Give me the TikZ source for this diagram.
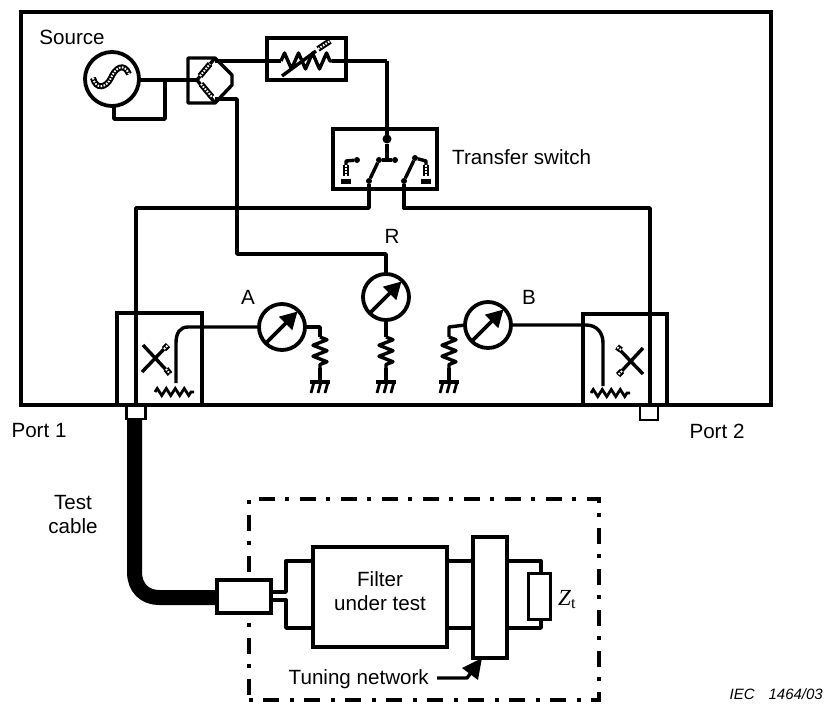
\documentclass[tikz,border=0pt]{standalone}
\usepackage{fontspec}
\setmainfont{Liberation Sans}
\newfontfamily\zfont{Liberation Serif}
\usetikzlibrary{arrows.meta,decorations.pathmorphing}

\begin{document}
\begin{tikzpicture}[x=1pt, y=-1pt,
    lab/.style={font=\fontsize{20.6}{24}\selectfont, align=center, inner sep=0pt},
    box/.style={rectangle, draw, line width=3.8pt, inner sep=0pt, outer sep=0pt},
    whitebox/.style={box, fill=white},
    meter/.style={circle, draw, line width=3.8pt, fill=white, minimum size=46pt,
                  inner sep=0pt, outer sep=0pt},
    wire/.style={line width=3.4pt, line join=round},
    needle/.style={line width=3.8pt, -{Triangle[length=17pt, width=18pt]},
                   shorten >=1pt},
    zig/.style={wire, decorate, decoration={zigzag, amplitude=5pt, segment length=8.5pt}},
    wiggle/.style={line width=2.8pt, decorate,
                   decoration={zigzag, amplitude=3.5pt, segment length=9pt}},
    blob/.style={line width=2pt, white, dash pattern=on 1.6pt off 1.4pt,
                 preaction={draw=black, solid, line width=6pt}},
    contact/.style={circle, fill=black, minimum size=6pt, inner sep=0pt, outer sep=0pt},
    chain/.style={line width=3.8pt, dash pattern=on 16pt off 10pt on 4pt off 11pt}]

    \useasboundingbox (0,0) rectangle (826,704);

    % Main frame
    \node[box, line width=3.4pt, minimum width=750pt, minimum height=393pt] (frame) at (396,208.5) {};

    % Source and splitter
    \node[meter, minimum size=54pt] (src) at (112,79) {};
    \node[lab] (srclab) at (72,37) {Source};
    \coordinate (sinea) at (93,78);
    \coordinate (sineb) at (111,78);
    \coordinate (sinec) at (129,74);
    \draw[blob, preaction={draw=black, solid, line width=5pt}] (sinea) .. controls (96,90) and (106,88) .. (sineb)
        .. controls (115,68) and (124,62) .. (sinec);
    \coordinate (splita) at (188,58);
    \coordinate (splitb) at (215,58);
    \coordinate (splitc) at (232,75);
    \coordinate (splitd) at (232,85);
    \coordinate (splite) at (215,103);
    \coordinate (splitf) at (188,103);
    \coordinate (splitin) at (197,80);
    \draw[wire] (splita) -- (splitb) -- (splitc) -- (splitd) -- (splite) -- (splitf) -- cycle;
    \draw[wire] (splitin) -- (splitb);
    \draw[wire] (splitin) -- (splite);
    \draw[blob] (200,76) -- (210,64);
    \draw[blob] (201,84) -- (212,97);

    % Loop at the source
    \coordinate (loopa) at (114,119);
    \coordinate (loopb) at (165,119);
    \coordinate (loopc) at (165,80);
    \draw[wire] (src.east |- loopc) -- (splitin);
    \draw[wire] (src.south -| loopa) -- (loopa) -- (loopb) -- (loopc);

    % Attenuator
    \node[box, minimum width=79pt, minimum height=42pt] (att) at (306.5,59) {};
    \coordinate (zigin) at (281,61);
    \coordinate (zigout) at (332,61);
    \coordinate (turn) at (387,61);
    \draw[wire] (215,61) -- (zigin);
    \draw[zig, decoration={amplitude=8pt, segment length=14pt}] (zigin) -- (zigout);
    \draw[wire] (zigout) -- (turn);
    \draw[wire] (282,76) -- (316,51);
    \draw[blob] (318,49) -- (330,41);

    % Transfer switch
    \node[box, minimum width=104pt, minimum height=60pt] (sw) at (385,159) {};
    \node[lab, anchor=west] (swlab) at (452,157) {Transfer switch};
    \node[contact, minimum size=9pt] (swtop) at (387,139) {};
    \coordinate (swmid) at (387,160);
    \node[contact] (swl) at (379,160) {};
    \node[contact] (swr) at (395,160) {};
    \node[contact] (swla) at (369,181) {};
    \node[contact] (swlb) at (404,181) {};
    \node[contact] (swra) at (415,158) {};
    \node[contact] (swtl) at (357,160) {};
    \draw[wire] (turn) -- (swtop);
    \draw[wire] (swtop) -- (swmid);
    \draw[wire] (swl) -- (swr);
    \draw[wire] (swl) -- (swla);
    \draw[wire] (swra) -- (swlb);
    \draw[wire] (swtl) -- (346,161) -- (346,165);
    \draw[wire] (swra) -- (426,161) -- (426,165);
    \draw[blob] (346,165) -- (346,176);
    \draw[blob] (426,165) -- (426,176);
    \draw[line width=5pt] (341,181) -- (351,181);
    \draw[line width=5pt] (421,181) -- (431,181);

    % Lines to the couplers
    \coordinate (linela) at (369,208);
    \coordinate (linelb) at (136,208);
    \coordinate (linelc) at (136,405);
    \coordinate (linera) at (404,208);
    \coordinate (linerb) at (650,208);
    \coordinate (linerc) at (650,405);
    \draw[wire] (swla) -- (linela) -- (linelb) -- (linelc);
    \draw[wire] (swlb) -- (linera) -- (linerb) -- (linerc);

    % Couplers
    \node[box, minimum width=85pt, minimum height=92pt] (cpla) at (159.5,359) {};
    \node[box, minimum width=84pt, minimum height=91pt] (cplb) at (625,359.5) {};
    \draw[wire] (143,345) -- (170,374);
    \draw[wire] (142,372) -- (165,348);
    \draw[blob] (164,349) -- (168,345);
    \draw[blob] (166,369) -- (170,374);
    \draw[wire] (643,374) -- (617,347);
    \draw[wire] (643,348) -- (618,375);
    \draw[blob] (621,350) -- (617,347);
    \draw[blob] (622,371) -- (618,375);
    \draw[wiggle] (155,392) -- (194,392);
    \draw[wiggle] (591,393) -- (630,393);

    % Meters
    \node[meter] (mA) at (282,327) {};
    \node[meter] (mR) at (386,297) {};
    \node[meter] (mB) at (488,325) {};
    \node[lab] (labA) at (248,297) {A};
    \node[lab] (labR) at (392,236) {R};
    \node[lab] (labB) at (529,297) {B};
    \draw[needle] (mA.225) -- (mA.45);
    \draw[needle] (mR.225) -- (mR.45);
    \draw[needle] (mB.225) -- (mB.45);

    % Meter feeds
    \coordinate (feeda) at (237,99);
    \coordinate (feedb) at (237,254);
    \draw[wire] (215,99) -- (feeda) -- (feedb) -- (feedb -| mR) -- (mR.north);
    \draw[wire] (176,383) -- (176,343) .. controls (176,333) and (180,327) .. (188,327) -- (mA.west);
    \draw[wire] (603,386) -- (603,343) .. controls (603,333) and (597,325) .. (586,325) -- (mB.east);

    % Loads and grounds
    \coordinate (gnda) at (320,382);
    \coordinate (gndr) at (386,382);
    \coordinate (gndb) at (449,382);
    \draw[wire] (mA.east) -- (320,327) -- (320,337);
    \draw[wire] (mB.west) -- (449,327) -- (449,337);
    \draw[wire] (mR.south) -- (386,337);
    \foreach \gnd in {gnda, gndr, gndb} {
        \draw[zig, decoration={amplitude=7pt, segment length=11pt}] (\gnd) ++(0,-45) -- ++(0,31);
        \draw[wire] (\gnd) ++(0,-14) -- (\gnd);
        \draw[line width=3.8pt] (\gnd) ++(-10,0) -- ++(20,0);
        \draw[line width=2.8pt] (\gnd) ++(-6,0) -- ++(-3,11);
        \draw[line width=2.8pt] (\gnd) ++(1,0) -- ++(-3,11);
        \draw[line width=2.8pt] (\gnd) ++(8,0) -- ++(-3,11);
    }

    % Ports
    \node[box, line width=2.8pt, minimum width=19pt, minimum height=14pt] (porta) at (136,412) {};
    \node[box, line width=2.8pt, minimum width=18pt, minimum height=15pt] (portb) at (649,412.5) {};
    \node[lab] (portalab) at (39,431) {Port 1};
    \node[lab] (portblab) at (717,431) {Port 2};

    % Filter fixture outline
    \coordinate (outa) at (259,499);
    \coordinate (outb) at (599,499);
    \coordinate (outc) at (599,700);
    \coordinate (outd) at (249,700);
    \coordinate (oute) at (249,500);
    \draw[chain] (outa) -- (outb) -- (outc) -- (outd);
    \draw[chain, dash phase=26pt] (oute) -- (outd);

    % Test cable
    \node[lab] (cablelab) at (73,515) {Test\\cable};
    \node[whitebox, minimum width=54pt, minimum height=33pt] (conn) at (244,596.5) {};
    \coordinate (cablea) at (134.5,419);
    \coordinate (cableb) at (134.5,572);
    \coordinate (cablec) at (159,597.5);
    \draw[line width=15pt] (cablea) -- (cableb) .. controls (134.5,588) and (145,597.5) .. (cablec) -- (conn.west |- cablec);

    % Filter and tuning network
    \node[box, minimum width=134pt, minimum height=100pt] (filt) at (380,597) {};
    \node[lab] (filtlab) at (380,591.5) {Filter\\under test};
    \node[box, minimum width=34pt, minimum height=121pt] (tune) at (490,597.5) {};
    \node[box, line width=3pt, minimum width=22pt, minimum height=46pt] (zt) at (539,596) {};
    \node[inner sep=0pt, anchor=west, font=\fontsize{23}{26}\selectfont] (ztlab) at (558,600) {\zfont\itshape Z\raisebox{-3pt}{\upshape\fontsize{16}{18}\selectfont t}};
    \coordinate (joina) at (286,592);
    \coordinate (joinb) at (286,600);
    \draw[wire] (conn.east |- joina) -- (joina) -- (286,561) -- (filt.west |- 0,561);
    \draw[wire] (conn.east |- joinb) -- (joinb) -- (286,628) -- (filt.west |- 0,628);
    \draw[wire] (filt.east |- 0,561) -- (tune.west |- 0,561);
    \draw[wire] (filt.east |- 0,628) -- (tune.west |- 0,628);
    \draw[wire] (tune.east |- 0,561) -- (541,561) -- (zt.north -| 541,0);
    \draw[wire] (tune.east |- 0,628) -- (541,628) -- (zt.south -| 541,0);

    % Tuning network arrow
    \node[lab, anchor=east] (tunelab) at (429,679) {Tuning network};
    \coordinate (tunearr) at (467,678);
    \draw[wire, -{Triangle[length=20pt, width=19pt]}] (tunelab.east) ++(8,-1) -- (tunearr) -- (tune.south -| 482,0);

    \node[inner sep=0pt, anchor=base east, font=\fontsize{15}{18}\selectfont\itshape] (figno) at (823,699) {IEC\hspace{14pt}1464/03};
\end{tikzpicture}
\end{document}
